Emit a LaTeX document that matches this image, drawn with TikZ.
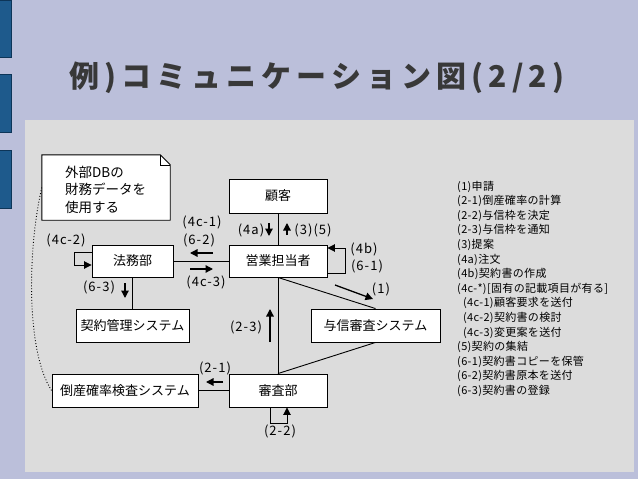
\documentclass[tikz,border=0pt]{standalone}
\usepackage{fontspec}
\setmainfont{Noto Sans CJK JP}
\usetikzlibrary{arrows.meta,calc}
\definecolor{bgc}{HTML}{BBBFDA}
\definecolor{panelc}{HTML}{DCDCDC}
\definecolor{barc}{HTML}{1E5A8C}
\definecolor{bard}{HTML}{0D3558}
\definecolor{titlec}{HTML}{383838}
\begin{document}
\begin{tikzpicture}[x=1pt,y=-1pt,
  box/.style={draw=black,fill=white,line width=0.9pt,inner sep=0pt,font=\fontsize{13}{15}\selectfont},
  link/.style={line width=0.9pt},
  msg/.style={line width=1.3pt,-{Triangle[length=7.5pt,width=7.5pt]}},
  lbl/.style={inner sep=0pt,font=\fontsize{13}{15}\selectfont\addfontfeatures{LetterSpace=8}},
  leg/.style={inner sep=0pt,anchor=base west,font=\fontsize{11}{13}\selectfont\addfontfeatures{LetterSpace=3}}]
\fill[bgc] (0,0) rectangle (638,479);
\useasboundingbox (0,0) rectangle (638,479);
% side bars
\foreach \ya/\yb in {0/57,74/132,150/208}
  \filldraw[fill=barc,draw=bard,line width=0.8pt] (-2,\ya) rectangle (11,\yb);
% panel
\fill[panelc] (25,120) rectangle (634,472);
% title
\node[anchor=base west,inner sep=0pt,text=titlec,font=\fontsize{30}{34}\selectfont\bfseries\addfontfeatures{LetterSpace=17}] (title) at (69,87) {例)コミュニケーション図(2/2)};
% note
\node[fill=white,minimum width=128pt,minimum height=65pt,inner sep=0pt] (note) at (106,187.5) {};
\fill[panelc] (note.north east) -- ++(-10,0) -- ++(10,10) -- cycle;
\draw[line width=0.9pt] (note.south west) -- (note.north west) -- ($(note.north east)+(-10,0)$) -- ($(note.north east)+(0,10)$) -- (note.south east) -- cycle;
\draw[line width=0.6pt] ($(note.north east)+(-10,0)$) -- ($(note.north east)+(-10,10)$) -- ($(note.north east)+(0,10)$);
\node[anchor=west,align=left,inner sep=0pt,font=\fontsize{13.5}{17.5}\selectfont] (notetext) at (65,189.5) {外部DBの\\財務データを\\使用する};
% boxes
\node[box,minimum width=98pt,minimum height=34pt] (kokyaku) at (278,196) {顧客};
\node[box,minimum width=98pt,minimum height=32pt] (eigyo) at (278,261) {営業担当者};
\node[box,minimum width=81pt,minimum height=32pt] (homu) at (132.5,261) {法務部};
\node[box,minimum width=113pt,minimum height=33pt] (keiyaku) at (132.5,325.5) {契約管理システム};
\node[box,minimum width=129pt,minimum height=33pt] (yoshin) at (375.5,325.5) {与信審査システム};
\node[box,minimum width=98pt,minimum height=33pt] (shinsa) at (278,390.5) {審査部};
\node[box,minimum width=146pt,minimum height=33pt] (tosan) at (125,390.5) {倒産確率検査システム};
% links
\draw[link] (kokyaku.south) -- (eigyo.north);
\draw[link] (homu.east) -- (eigyo.west);
\draw[link] (homu.south) -- (keiyaku.north);
\draw[link] (eigyo.south) -- (shinsa.north);
\draw[link] (eigyo.south) -- (yoshin.north);
\draw[link] (shinsa.north) -- (yoshin.south);
\draw[link] (shinsa.west) -- (tosan.east);
\draw[dotted,line width=0.9pt] (note.west) .. controls ($(note.west)+(-14,60)$) and ($(tosan.west)+(-26,-40)$) .. (tosan.west);
% self loops
\draw[link,-{Triangle[length=7.5pt,width=7.5pt]}] ([yshift=9pt]homu.west) -- ++(-17,0) |- ([yshift=-4pt]homu.west);
\draw[link,-{Triangle[length=7.5pt,width=7.5pt]}] ([yshift=-12pt]eigyo.east) -- ++(18,0) |- ([yshift=13pt]eigyo.east);
\draw[link,-{Triangle[length=7.5pt,width=7.5pt]}] ([xshift=-8pt]shinsa.south) -- ++(0,16) -| ([xshift=9pt]shinsa.south);
% message arrows
\coordinate (m1a) at (213,253); \coordinate (m1b) at (190,253);
\coordinate (m2a) at (190,269); \coordinate (m2b) at (213,269);
\coordinate (m3a) at (269,223); \coordinate (m3b) at (269,236);
\coordinate (m4a) at (287,235); \coordinate (m4b) at (287,223);
\coordinate (m5a) at (125,283); \coordinate (m5b) at (125,298);
\coordinate (m6a) at (335,285); \coordinate (m6b) at (373,299);
\coordinate (m7a) at (270,342); \coordinate (m7b) at (270,309);
\coordinate (m8a) at (223,382); \coordinate (m8b) at (206,382);
\foreach \i in {1,...,8} \draw[msg] (m\i a) -- (m\i b);
% labels
\node[lbl] (l4c2) at (66,240) {(4c-2)};
\node[lbl] (l4c1) at (202,222) {(4c-1)};
\node[lbl] (l62) at (199,240) {(6-2)};
\node[lbl] (l4c3) at (206,282) {(4c-3)};
\node[lbl] (l4a) at (251,230) {(4a)};
\node[lbl] (l35) at (313,230) {(3)(5)};
\node[lbl] (l63) at (99,287) {(6-3)};
\node[lbl] (l4b) at (364,249) {(4b)};
\node[lbl] (l61) at (367,266) {(6-1)};
\node[lbl] (l1) at (381,289) {(1)};
\node[lbl] (l23) at (246,327) {(2-3)};
\node[lbl] (l21) at (215,368) {(2-1)};
\node[lbl] (l22) at (280,431) {(2-2)};
% legend
\foreach \t [count=\i from 0] in {(1)申請,(2-1)倒産確率の計算,(2-2)与信枠を決定,(2-3)与信枠を通知,(3)提案,(4a)注文,(4b)契約書の作成,(4c-*)[固有の記載項目が有る],\hspace*{6pt}(4c-1)顧客要求を送付,\hspace*{6pt}(4c-2)契約書の検討,\hspace*{6pt}(4c-3)変更案を送付,(5)契約の集結,(6-1)契約書コピーを保管,(6-2)契約書原本を送付,(6-3)契約書の登録}
  \node[leg] (leg\i) at (457,{190+14.6*\i}) {\t};
\end{tikzpicture}
\end{document}
